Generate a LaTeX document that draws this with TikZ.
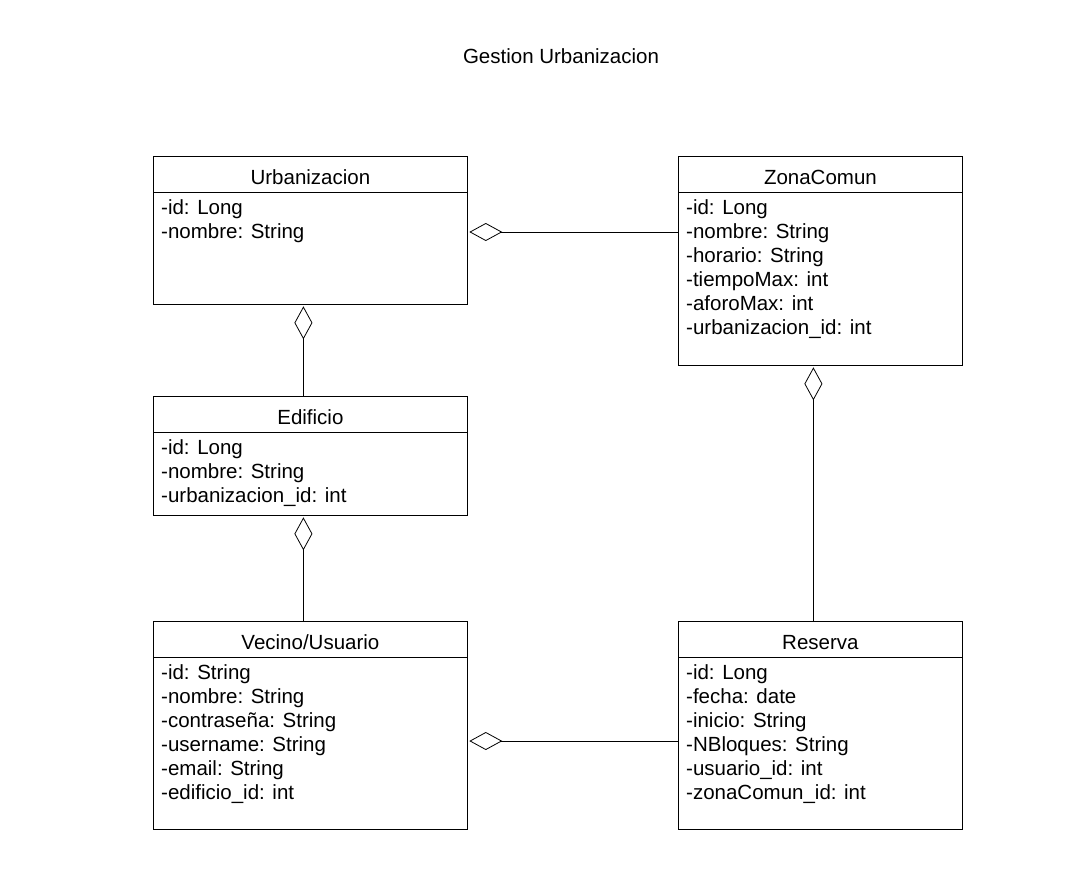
\documentclass[tikz,border=0pt]{standalone}
\usepackage{fontspec}
\setmainfont{Liberation Sans}
\usetikzlibrary{arrows.meta, positioning}
\tikzset{
  umlfont/.style={font=\fontsize{20.5}{24}\selectfont},
  classbox/.style={draw, line width=0.8pt, anchor=north west, inner sep=0pt},
  classname/.style={umlfont, anchor=base, inner sep=0pt},
  attrs/.style={umlfont, anchor=north west, align=left, inner sep=0pt},
  agg/.style={line width=0.8pt, shorten >=1.5pt, -{Diamond[open, length=33pt, width=18pt]}}
}
\newcommand{\headline}[1]{\draw[line width=0.8pt] ([yshift=-36pt]#1.north west) -- ([yshift=-36pt]#1.north east);}

\begin{document}
\begin{tikzpicture}[x=1pt,y=-1pt]
\useasboundingbox (0,0) rectangle (1086,868);
\node[classname] (title) at (561,63) {Gestion Urbanizacion};

% classes
\node[classbox, minimum width=314pt, minimum height=148pt] (urb) at (153,156) {};
\headline{urb}
\node[classname] (urbN) at ([yshift=-28pt]urb.north) {Urbanizacion};
\node[attrs] (urbA) at ([xshift=8pt,yshift=-43pt]urb.north west) {-id: Long\\-nombre: String};

\node[classbox, minimum width=284pt, minimum height=209pt] (zc) at (678,156) {};
\headline{zc}
\node[classname] (zcN) at ([yshift=-28pt]zc.north) {ZonaComun};
\node[attrs] (zcA) at ([xshift=8pt,yshift=-43pt]zc.north west) {-id: Long\\-nombre: String\\-horario: String\\-tiempoMax: int\\-aforoMax: int\\-urbanizacion\_id: int};

\node[classbox, minimum width=314pt, minimum height=119pt] (edi) at (153,396) {};
\headline{edi}
\node[classname] (ediN) at ([yshift=-28pt]edi.north) {Edificio};
\node[attrs] (ediA) at ([xshift=8pt,yshift=-43pt]edi.north west) {-id: Long\\-nombre: String\\-urbanizacion\_id: int};

\node[classbox, minimum width=314pt, minimum height=208pt] (vec) at (153,621) {};
\headline{vec}
\node[classname] (vecN) at ([yshift=-28pt]vec.north) {Vecino/Usuario};
\node[attrs] (vecA) at ([xshift=8pt,yshift=-43pt]vec.north west) {-id: String\\-nombre: String\\-contraseña: String\\-username: String\\-email: String\\-edificio\_id: int};

\node[classbox, minimum width=284pt, minimum height=208pt] (res) at (678,621) {};
\headline{res}
\node[classname] (resN) at ([yshift=-28pt]res.north) {Reserva};
\node[attrs] (resA) at ([xshift=8pt,yshift=-43pt]res.north west) {-id: Long\\-fecha: date\\-inicio: String\\-NBloques: String\\-usuario\_id: int\\-zonaComun\_id: int};

% aggregations
\draw[agg] ([yshift=-76pt]zc.north west) -- ([yshift=-76pt]urb.north east);
\draw[agg] ([xshift=-7pt]edi.north) -- ([xshift=-7pt]urb.south);
\draw[agg] ([xshift=-7pt]vec.north) -- ([xshift=-7pt]edi.south);
\draw[agg] ([xshift=-7pt]res.north) -- ([xshift=-7pt]zc.south);
\draw[agg] ([yshift=-120pt]res.north west) -- ([yshift=-120pt]vec.north east);
\end{tikzpicture}
\end{document}
